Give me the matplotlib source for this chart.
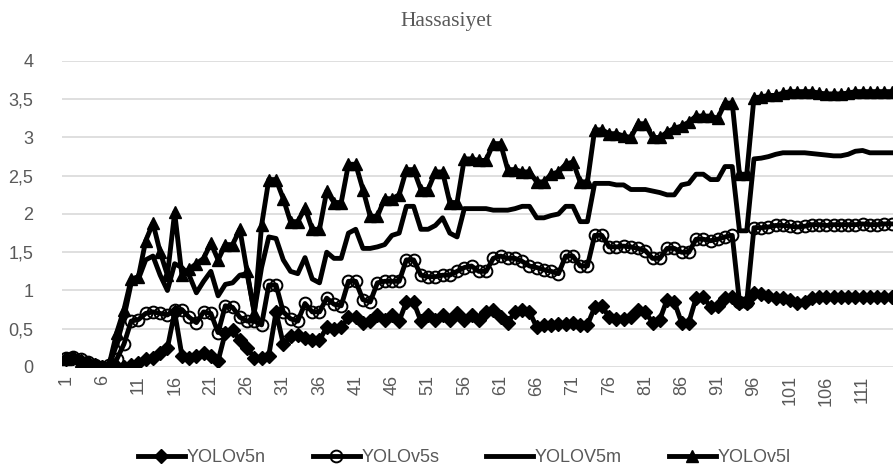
import matplotlib
matplotlib.use('Agg')
import matplotlib.pyplot as plt

## categories (1..115) and the four series
categories = list(range(1, 116))
tick_labels = [str(c) for c in range(1, 112, 5)]

yolov5n = [0.10, 0.12, 0.08, 0.05, 0.02, 0.00, 0.00, 0.00, 0.00, 0.02,
           0.05, 0.10, 0.12, 0.18, 0.25, 0.72, 0.15, 0.12, 0.15, 0.18,
           0.15, 0.08, 0.45, 0.48, 0.35, 0.25, 0.12, 0.12, 0.15, 0.72,
           0.30, 0.40, 0.42, 0.38, 0.35, 0.35, 0.52, 0.50, 0.52, 0.65,
           0.65, 0.57, 0.60, 0.68, 0.62, 0.68, 0.60, 0.85, 0.85, 0.60,
           0.68, 0.62, 0.68, 0.62, 0.70, 0.62, 0.68, 0.62, 0.72, 0.75,
           0.65, 0.58, 0.72, 0.75, 0.72, 0.52, 0.55, 0.55, 0.56, 0.56,
           0.58, 0.55, 0.55, 0.78, 0.80, 0.65, 0.63, 0.63, 0.65, 0.75,
           0.72, 0.58, 0.62, 0.88, 0.85, 0.58, 0.58, 0.90, 0.92, 0.78,
           0.80, 0.90, 0.92, 0.83, 0.83, 0.97, 0.95, 0.93, 0.90, 0.90,
           0.88, 0.84, 0.85, 0.90, 0.92, 0.91, 0.92, 0.91, 0.92, 0.91,
           0.92, 0.91, 0.92, 0.91, 0.92]

yolov5s = [0.12, 0.13, 0.10, 0.06, 0.03, 0.00, 0.02, 0.10, 0.30, 0.60,
           0.62, 0.70, 0.72, 0.70, 0.68, 0.75, 0.75, 0.65, 0.58, 0.72,
           0.70, 0.45, 0.80, 0.78, 0.65, 0.60, 0.60, 0.55, 1.07, 1.07,
           0.72, 0.63, 0.60, 0.83, 0.72, 0.72, 0.90, 0.82, 0.80, 1.12,
           1.12, 0.88, 0.85, 1.10, 1.12, 1.12, 1.12, 1.40, 1.40, 1.20,
           1.18, 1.18, 1.20, 1.20, 1.25, 1.30, 1.32, 1.25, 1.25, 1.42,
           1.45, 1.42, 1.42, 1.38, 1.32, 1.30, 1.27, 1.25, 1.22, 1.45,
           1.45, 1.32, 1.32, 1.72, 1.72, 1.57, 1.57, 1.58, 1.57, 1.55,
           1.52, 1.42, 1.42, 1.55, 1.55, 1.50, 1.50, 1.67, 1.67, 1.65,
           1.67, 1.70, 1.72, 0.85, 0.85, 1.82, 1.82, 1.83, 1.85, 1.85,
           1.84, 1.83, 1.84, 1.86, 1.86, 1.85, 1.86, 1.86, 1.86, 1.86,
           1.87, 1.86, 1.86, 1.87, 1.87]

yolov5m = [0.10, 0.12, 0.08, 0.05, 0.03, 0.00, 0.02, 0.30, 0.65, 1.10,
           1.15, 1.40, 1.45, 1.20, 1.00, 1.35, 1.30, 1.20, 0.97, 1.12,
           1.25, 0.93, 1.08, 1.10, 1.20, 1.22, 0.72, 1.30, 1.70, 1.68,
           1.40, 1.25, 1.22, 1.43, 1.15, 1.10, 1.50, 1.42, 1.42, 1.75,
           1.80, 1.55, 1.55, 1.57, 1.60, 1.72, 1.75, 2.10, 2.10, 1.80,
           1.80, 1.85, 1.95, 1.75, 1.70, 2.07, 2.07, 2.07, 2.07, 2.05,
           2.05, 2.05, 2.07, 2.10, 2.10, 1.95, 1.95, 1.98, 2.00, 2.10,
           2.10, 1.90, 1.90, 2.40, 2.40, 2.40, 2.38, 2.38, 2.32, 2.32,
           2.32, 2.30, 2.28, 2.25, 2.25, 2.38, 2.40, 2.52, 2.52, 2.45,
           2.45, 2.62, 2.62, 1.78, 1.78, 2.72, 2.73, 2.75, 2.78, 2.80,
           2.80, 2.80, 2.80, 2.79, 2.78, 2.77, 2.76, 2.76, 2.78, 2.82,
           2.83, 2.80, 2.80, 2.80, 2.80]

yolov5l = [0.10, 0.12, 0.08, 0.05, 0.03, 0.00, 0.05, 0.45, 0.75, 1.15,
           1.18, 1.65, 1.88, 1.50, 1.20, 2.02, 1.20, 1.28, 1.35, 1.42,
           1.62, 1.40, 1.60, 1.60, 1.80, 1.25, 0.70, 1.85, 2.45, 2.45,
           2.20, 1.90, 1.90, 2.08, 1.80, 1.80, 2.30, 2.15, 2.15, 2.65,
           2.65, 2.32, 1.97, 1.97, 2.20, 2.20, 2.25, 2.58, 2.58, 2.32,
           2.32, 2.55, 2.55, 2.15, 2.15, 2.72, 2.72, 2.70, 2.70, 2.92,
           2.92, 2.58, 2.58, 2.55, 2.55, 2.42, 2.42, 2.52, 2.55, 2.65,
           2.68, 2.42, 2.42, 3.10, 3.10, 3.05, 3.05, 3.02, 3.00, 3.18,
           3.18, 3.00, 3.00, 3.07, 3.12, 3.15, 3.20, 3.28, 3.28, 3.28,
           3.25, 3.45, 3.45, 2.52, 2.52, 3.52, 3.53, 3.55, 3.55, 3.58,
           3.60, 3.60, 3.60, 3.60, 3.58, 3.57, 3.57, 3.57, 3.58, 3.60,
           3.60, 3.60, 3.60, 3.60, 3.60]

gray = '#595959'
fig = plt.figure(figsize=(8.93, 4.75), dpi=100)
ax = fig.add_axes([0.0699, 0.2274, 0.9301, 0.6442])

## draw in excel order so the last series ends up on top
ax.plot(categories, yolov5n, color='black', lw=3.5, marker='D', ms=7, label='YOLOv5n')
ax.plot(categories, yolov5s, color='black', lw=3.5, marker='o', ms=8.5,
        mfc='none', mew=1.4, label='YOLOv5s')
ax.plot(categories, yolov5m, color='black', lw=3.5, label='YOLOV5m')
ax.plot(categories, yolov5l, color='black', lw=3.5, marker='^', ms=8.5, label='YOLOv5l')

ax.set_xlim(0.5, 115.2)
ax.set_ylim(0, 4)
ax.set_yticks([0, 0.5, 1, 1.5, 2, 2.5, 3, 3.5, 4])
ax.set_yticklabels(['0', '0,5', '1', '1,5', '2', '2,5', '3', '3,5', '4'])
ax.set_xticks(range(1, 112, 5))
ax.set_xticklabels(tick_labels, rotation=90)
ax.tick_params(axis='both', length=0, colors=gray, labelsize=13)
ax.tick_params(axis='y', pad=21)
ax.tick_params(axis='x', pad=6)
for lbl in ax.get_xticklabels() + ax.get_yticklabels():
    lbl.set_fontfamily('Liberation Sans')

ax.grid(axis='y', color='#d9d9d9', lw=1.2)
ax.set_axisbelow(True)
for s in ax.spines.values():
    s.set_visible(False)

fig.text(0.5, 0.955, 'Hassasiyet', ha='center', va='center', color=gray,
         fontsize=15.5, family='Liberation Serif')

fig.legend(loc='center', bbox_to_anchor=(0.52, 0.036), ncol=4, frameon=False,
           handlelength=2.6, columnspacing=2.6, handletextpad=0.1,
           labelcolor=gray, prop={'family': 'Liberation Sans', 'size': 13})

fig.savefig('out.png', dpi=100)
